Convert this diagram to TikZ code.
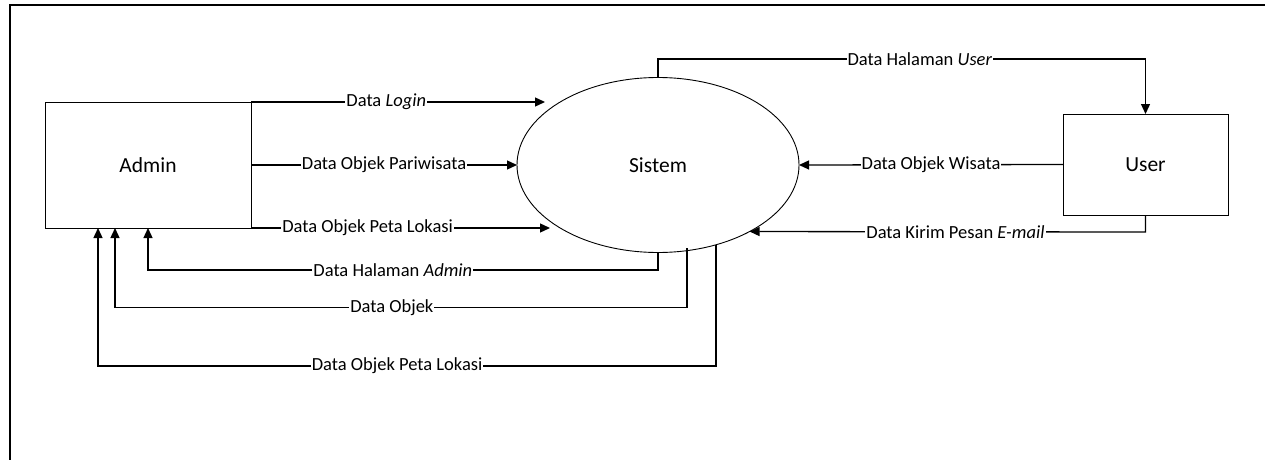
\documentclass[tikz,border=0pt]{standalone}
\usepackage{fontspec}
\setmainfont{Carlito}
\usetikzlibrary{calc,arrows.meta,shapes.geometric}
\tikzset{
  entity/.style={draw,line width=0.9pt,minimum width=206pt,minimum height=126pt,outer sep=0pt,inner sep=0pt,font=\fontsize{21.5}{26}\selectfont},
  process/.style={draw,ellipse,line width=0.9pt,minimum width=282pt,minimum height=175pt,outer sep=0pt,inner sep=0pt,font=\fontsize{21.5}{26}\selectfont},
  flow/.style={line width=1.3pt,-{Triangle[length=10pt,width=9pt]}},
  lbl/.style={fill=white,inner sep=1pt,font=\fontsize{18.5}{22}\selectfont}
}
\begin{document}
\begin{tikzpicture}[x=1pt,y=-1pt]
\useasboundingbox (0,0) rectangle (1265,460);

% frame
\draw[line width=2pt] (9.5,460) -- (9.5,5) -- (1265,5);

% entities and process
\node[entity] (admin) at (148,165) {Admin};
\node[entity,minimum width=165pt,minimum height=101pt] (user) at (1145.5,164.5) {User};
\node[process] (sistem) at (658,165) {Sistem};

\coordinate (loginEnd) at (545,102);
\coordinate (petaEnd) at (550,228);
\coordinate (objekStart) at (687,248);
\coordinate (petaStart) at (716,245);

% admin to sistem
\draw[flow] (admin.north east) -- node[lbl,pos=0.46] (lLogin) {Data \textit{Login}} (loginEnd);
\draw[flow] (admin.east) -- node[lbl,pos=0.5] (lPariwisata) {Data Objek Pariwisata} (sistem.west);
\draw[flow] (admin.south east) -- node[lbl,pos=0.39] (lPetaIn) {Data Objek Peta Lokasi} (petaEnd);

% sistem to admin
\draw[flow] (sistem.south) -- (658,270) -- node[lbl,pos=0.52] (lHalAdmin) {Data Halaman \textit{Admin}} (148,270) -- (admin.south);
\draw[flow] (objekStart) -- (687,307.5) -- node[lbl,pos=0.516] (lObjek) {Data Objek} (115,307.5) -- ($(admin.south)+(-33,0)$);
\draw[flow] (petaStart) -- (716,366) -- node[lbl,pos=0.516] (lPetaOut) {Data Objek Peta Lokasi} (98,366) -- ($(admin.south)+(-50,0)$);

% sistem and user
\draw[flow] (sistem.north) -- (658,59) -- node[lbl,pos=0.537] (lHalUser) {Data Halaman \textit{User}} (1145.5,59) -- (user.north);
\draw[flow] (user.west) -- node[lbl,pos=0.5] (lWisata) {Data Objek Wisata} (sistem.east);
\draw[flow] (user.south) -- (1145.5,232) -- node[lbl,pos=0.48] (lEmail) {Data Kirim Pesan \textit{E-mail}} (sistem.-36.5);

\end{tikzpicture}
\end{document}
